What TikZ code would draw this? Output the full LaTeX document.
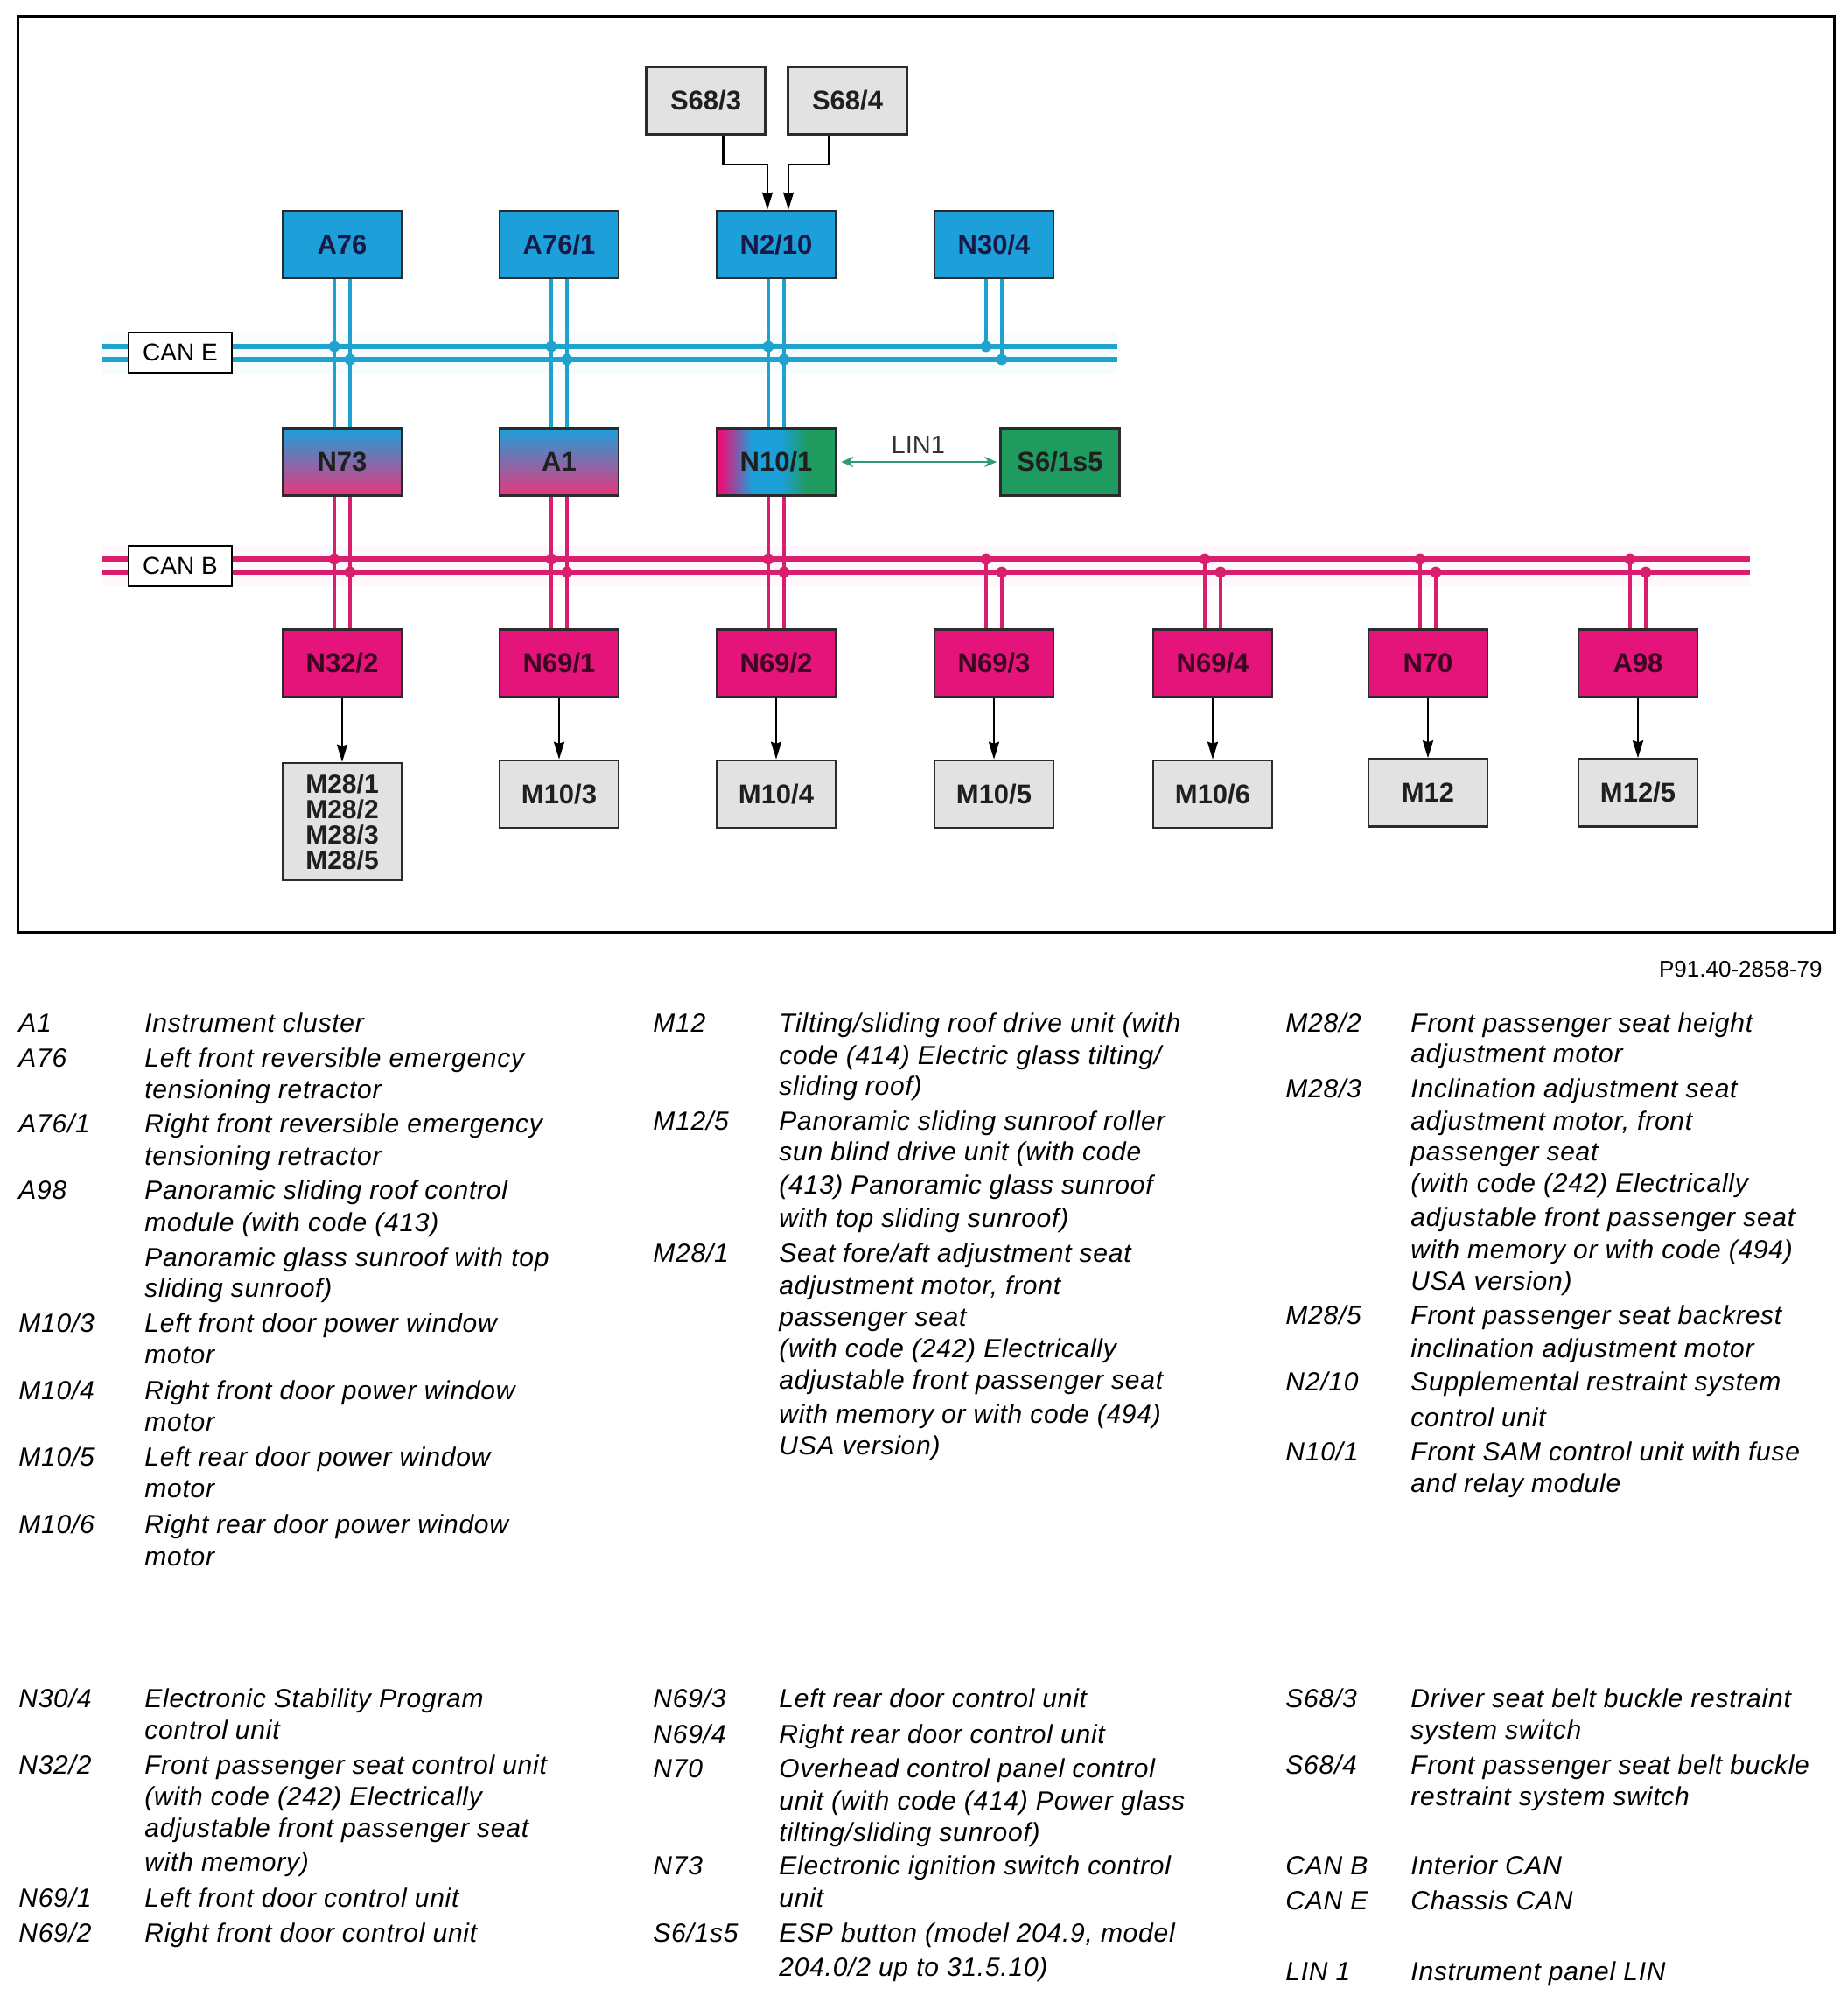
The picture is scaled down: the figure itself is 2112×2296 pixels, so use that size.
\documentclass[tikz,border=0pt]{standalone}
\usepackage{fontspec}
\setmainfont{Liberation Sans}
\newfontfamily\legfont{Liberation Sans}[LetterSpace=2.5]
\usetikzlibrary{arrows.meta}
\definecolor{cbl}{HTML}{1D9FDA}
\definecolor{cbline}{HTML}{1FA2CE}
\definecolor{cmag}{HTML}{E5147A}
\definecolor{cmagline}{HTML}{D81E6C}
\definecolor{cpink}{HTML}{E8377B}
\definecolor{cgray}{HTML}{E2E2E2}
\definecolor{cgreen}{HTML}{1F9B5F}
\definecolor{clin}{HTML}{2E9C72}
\definecolor{cbord}{HTML}{2B2B2B}
\pgfdeclarehorizontalshading{samshade}{100bp}{color(0bp)=(cmag); color(27bp)=(cmag); color(40bp)=(cbl); color(52bp)=(cbl); color(63bp)=(cgreen); color(100bp)=(cgreen)}
\tikzset{
  box/.style={draw=cbord, line width=1.3pt, minimum width=68pt, minimum height=38.5pt, inner sep=0pt,
    font=\bfseries\fontsize{15.5}{15.5}\selectfont, text=black!88},
  ebox/.style={box, fill=cbl, text=black!80!blue!90},
  mbox/.style={box, fill=cmag, text=black!75!cmag},
  gbox/.style={box, fill=cgray},
  xbox/.style={box, top color=cbl, bottom color=cpink},
  sambox/.style={box, shading=samshade},
  grbox/.style={box, fill=cgreen},
  buslabel/.style={draw=black, line width=1.2pt, fill=white, minimum width=59pt, minimum height=23pt, inner sep=0pt,
    font=\fontsize{14}{14}\selectfont},
  ebus/.style={draw=cbline, line width=2.6pt},
  bbus/.style={draw=cmagline, line width=2.6pt},
  evert/.style={draw=cbline, line width=1.6pt},
  bvert/.style={draw=cmagline, line width=1.6pt},
  arr/.style={draw=black, line width=1.1pt, -{Stealth[length=10pt,width=6pt,inset=1pt]}},
  lin/.style={draw=clin, line width=1.4pt, {Stealth[length=7pt,width=6pt]}-{Stealth[length=7pt,width=6pt]}},
  leg/.style={anchor=base west, inner sep=0pt, font=\legfont\itshape\fontsize{15}{18}\selectfont},
}
\begin{document}
\begin{tikzpicture}[x=0.5pt,y=-0.5pt]
\useasboundingbox (0,0) rectangle (2112,2296);
\fill[white] (0,0) rectangle (2112,2296);
% frame
\draw[line width=1.5pt] (20,19) rectangle (2096,1065);
% bus glow
\fill[cyan!3] (116,381) rectangle (1277,427);
\fill[magenta!3] (116,624) rectangle (2000,670);
% buses
\coordinate (eL1) at (116,396); \coordinate (eR1) at (1277,396);
\coordinate (eL2) at (116,411); \coordinate (eR2) at (1277,411);
\coordinate (bL1) at (116,639); \coordinate (bR1) at (2000,639);
\coordinate (bL2) at (116,654); \coordinate (bR2) at (2000,654);
\draw[ebus] (eL1) -- (eR1);
\draw[ebus] (eL2) -- (eR2);
\draw[bbus] (bL1) -- (bR1);
\draw[bbus] (bL2) -- (bR2);
\node[buslabel] (cane) at (206,403) {CAN E};
\node[buslabel] (canb) at (206,647) {CAN B};
% top switches
\node[gbox] (S683) at (806.5,115) {S68/3};
\node[gbox] (S684) at (968.5,115) {S68/4};
% CAN E row
\node[ebox] (A76) at (391,279.5) {A76};
\node[ebox] (A761) at (639,279.5) {A76/1};
\node[ebox] (N210) at (887,279.5) {N2/10};
\node[ebox] (N304) at (1136,279.5) {N30/4};
% gateway row
\node[xbox] (N73) at (391,528) {N73};
\node[xbox] (A1) at (639,528) {A1};
\node[sambox] (N101) at (887,528) {N10/1};
\node[grbox] (S61s5) at (1211.5,528) {S6/1s5};
% CAN B row
\node[mbox] (N322) at (391,758) {N32/2};
\node[mbox] (N691) at (639,758) {N69/1};
\node[mbox] (N692) at (887,758) {N69/2};
\node[mbox] (N693) at (1136,758) {N69/3};
\node[mbox] (N694) at (1386,758) {N69/4};
\node[mbox] (N70) at (1632,758) {N70};
\node[mbox] (A98) at (1872,758) {A98};
% actuators
\node[gbox, minimum height=67pt, align=center, font=\bfseries\fontsize{15}{14.5}\selectfont] (M28) at (391,939) {M28/1\\M28/2\\M28/3\\M28/5};
\node[gbox] (M103) at (639,907.5) {M10/3};
\node[gbox] (M104) at (887,907.5) {M10/4};
\node[gbox] (M105) at (1136,907.5) {M10/5};
\node[gbox] (M106) at (1386,907.5) {M10/6};
\node[gbox] (M12) at (1632,906) {M12};
\node[gbox] (M125) at (1872,906) {M12/5};
% CAN E drops
\foreach \a/\b in {A76/N73, A761/A1, N210/N101}{
  \draw[evert] ([xshift=-4.5pt]\a.south) -- ([xshift=-4.5pt]\b.north);
  \draw[evert] ([xshift=4.5pt]\a.south) -- ([xshift=4.5pt]\b.north);
}
\coordinate (e4a) at (1127,396); \coordinate (e4b) at (1145,411);
\draw[evert] ([xshift=-4.5pt]N304.south) -- (e4a);
\draw[evert] ([xshift=4.5pt]N304.south) -- (e4b);
\foreach \x in {391,639,887,1136}{
  \fill[cbline] (\x-9,396) circle (3.2pt);
  \fill[cbline] (\x+9,411) circle (3.2pt);
}
% CAN B drops
\foreach \a/\b in {N73/N322, A1/N691, N101/N692}{
  \draw[bvert] ([xshift=-4.5pt]\a.south) -- ([xshift=-4.5pt]\b.north);
  \draw[bvert] ([xshift=4.5pt]\a.south) -- ([xshift=4.5pt]\b.north);
}
\foreach \b/\x in {N693/1136, N694/1386, N70/1632, A98/1872}{
  \coordinate (\b-t) at (\x-9,639);
  \coordinate (\b-u) at (\x+9,654);
  \draw[bvert] (\b-t) -- ([xshift=-4.5pt]\b.north);
  \draw[bvert] (\b-u) -- ([xshift=4.5pt]\b.north);
}
\foreach \x in {391,639,887,1136,1386,1632,1872}{
  \fill[cmagline] (\x-9,639) circle (3.2pt);
  \fill[cmagline] (\x+9,654) circle (3.2pt);
}
% switch inputs
\draw[arr] ([xshift=10pt]S683.south) -- ++(0,33) -| ([xshift=-5pt]N210.north);
\draw[arr] ([xshift=-10.5pt]S684.south) -- ++(0,33) -| ([xshift=7pt]N210.north);
% LIN
\draw[lin, shorten <=2.5pt, shorten >=1.5pt] (N101.east) -- (S61s5.west) node[midway, above=0.5pt, font=\fontsize{14.5}{14.5}\selectfont, text=black!80] (lin1) {LIN1};
% outputs
\foreach \a/\b in {N322/M28, N691/M103, N692/M104, N693/M105, N694/M106, N70/M12, A98/M125}{
  \draw[arr] (\a.south) -- (\b.north);
}
% figure number
\node[anchor=base east, inner sep=0pt, font=\fontsize{13}{13}\selectfont] (pid) at (2083,1116) {P91.40-2858-79};
% legend column 1, block 1
\foreach \y/\t [count=\i] in {1179/{A1}, 1219/{A76}, 1294/{A76/1}, 1370/{A98}, 1522/{M10/3}, 1599/{M10/4}, 1675/{M10/5}, 1752/{M10/6}}
  \node[leg] (ca\i) at (21,\y) {\t};
\foreach \y/\t [count=\i] in {1179/{Instrument cluster}, 1219/{Left front reversible emergency}, 1255/{tensioning retractor},
  1294/{Right front reversible emergency}, 1331/{tensioning retractor}, 1370/{Panoramic sliding roof control},
  1407/{module (with code (413)}, 1447/{Panoramic glass sunroof with top}, 1482/{sliding sunroof)},
  1522/{Left front door power window}, 1558/{motor}, 1599/{Right front door power window}, 1635/{motor},
  1675/{Left rear door power window}, 1711/{motor}, 1752/{Right rear door power window}, 1789/{motor}}
  \node[leg] (da\i) at (165,\y) {\t};
% legend column 2, block 1
\foreach \y/\t [count=\i] in {1179/{M12}, 1291/{M12/5}, 1442/{M28/1}}
  \node[leg] (cb\i) at (746,\y) {\t};
\foreach \y/\t [count=\i] in {1179/{Tilting/sliding roof drive unit (with}, 1216/{code (414) Electric glass tilting/},
  1251/{sliding roof)}, 1291/{Panoramic sliding sunroof roller}, 1326/{sun blind drive unit (with code},
  1364/{(413) Panoramic glass sunroof}, 1402/{with top sliding sunroof)}, 1442/{Seat fore/aft adjustment seat},
  1479/{adjustment motor, front}, 1515/{passenger seat}, 1551/{(with code (242) Electrically},
  1587/{adjustable front passenger seat}, 1626/{with memory or with code (494)}, 1662/{USA version)}}
  \node[leg] (db\i) at (890,\y) {\t};
% legend column 3, block 1
\foreach \y/\t [count=\i] in {1179/{M28/2}, 1254/{M28/3}, 1513/{M28/5}, 1589/{N2/10}, 1669/{N10/1}}
  \node[leg] (cc\i) at (1469,\y) {\t};
\foreach \y/\t [count=\i] in {1179/{Front passenger seat height}, 1214/{adjustment motor}, 1254/{Inclination adjustment seat},
  1291/{adjustment motor, front}, 1326/{passenger seat}, 1362/{(with code (242) Electrically},
  1401/{adjustable front passenger seat}, 1438/{with memory or with code (494)}, 1474/{USA version)},
  1513/{Front passenger seat backrest}, 1551/{inclination adjustment motor}, 1589/{Supplemental restraint system},
  1630/{control unit}, 1669/{Front SAM control unit with fuse}, 1705/{and relay module}}
  \node[leg] (dc\i) at (1612,\y) {\t};
% legend block 2
\foreach \y/\t [count=\i] in {1951/{N30/4}, 2027/{N32/2}, 2179/{N69/1}, 2219/{N69/2}}
  \node[leg] (cd\i) at (21,\y) {\t};
\foreach \y/\t [count=\i] in {1951/{Electronic Stability Program}, 1987/{control unit}, 2027/{Front passenger seat control unit},
  2063/{(with code (242) Electrically}, 2099/{adjustable front passenger seat}, 2138/{with memory)},
  2179/{Left front door control unit}, 2219/{Right front door control unit}}
  \node[leg] (dd\i) at (165,\y) {\t};
\foreach \y/\t [count=\i] in {1951/{N69/3}, 1992/{N69/4}, 2031/{N70}, 2142/{N73}, 2219/{S6/1s5}}
  \node[leg] (ce\i) at (746,\y) {\t};
\foreach \y/\t [count=\i] in {1951/{Left rear door control unit}, 1992/{Right rear door control unit},
  2031/{Overhead control panel control}, 2068/{unit (with code (414) Power glass}, 2104/{tilting/sliding sunroof)},
  2142/{Electronic ignition switch control}, 2179/{unit}, 2219/{ESP button (model 204.9, model}, 2258/{204.0/2 up to 31.5.10)}}
  \node[leg] (de\i) at (890,\y) {\t};
\foreach \y/\t [count=\i] in {1951/{S68/3}, 2027/{S68/4}, 2142/{CAN B}, 2182/{CAN E}, 2263/{LIN 1}}
  \node[leg] (cf\i) at (1469,\y) {\t};
\foreach \y/\t [count=\i] in {1951/{Driver seat belt buckle restraint}, 1987/{system switch},
  2027/{Front passenger seat belt buckle}, 2063/{restraint system switch}, 2142/{Interior CAN},
  2182/{Chassis CAN}, 2263/{Instrument panel LIN}}
  \node[leg] (df\i) at (1612,\y) {\t};
\end{tikzpicture}
\end{document}
